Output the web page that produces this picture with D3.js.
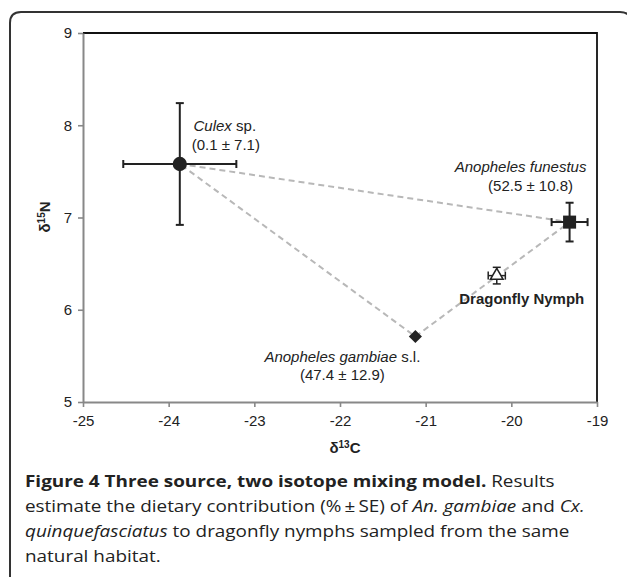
<!DOCTYPE html>
<html>
<head>
<meta charset="utf-8">
<script src="https://cdn.jsdelivr.net/npm/d3@7"></script>
<style>
  html, body { margin: 0; padding: 0; background: #fff; }
  svg { display: block; }
</style>
</head>
<body>
<svg id="chart" width="627" height="577"></svg>
<script>
// ---------------- DATA ----------------
const sourceNames = ["Culex", "Anopheles funestus", "Anopheles gambiae", "Dragonfly Nymph"];
const d13C      = [-23.87, -19.32, -21.12, -20.17];
const d15N      = [7.58, 6.95, 5.71, 6.37];
const d13C_se   = [0.66, 0.21, 0, 0.10];
const d15N_se   = [0.66, 0.21, 0, 0.09];
const contributions = ["(0.1 \u00B1 7.1)", "(52.5 \u00B1 10.8)", "(47.4 \u00B1 12.9)", ""];
const xTicks = [-25, -24, -23, -22, -21, -20, -19];
const yTicks = [5, 6, 7, 8, 9];
const mixingTriangle = [0, 1, 2, 0]; // indices of sources joined by dashed lines

// ---------------- LAYOUT ----------------
const svg = d3.select("#chart");
const L = 83, R = 597, T = 33, B = 402;
const x = d3.scaleLinear().domain([-25, -19]).range([L, R]);
const y = d3.scaleLinear().domain([5, 9]).range([B, T]);
const font = "'Liberation Sans', Arial, sans-serif";
const dark = "#222";
const fmt = d => d3.format("d")(d).replace("\u2212", "-");

// outer rounded frame (open at bottom)
svg.append("path")
  .attr("d", "M10,590 L10,23 Q10,12 21,12 L620,12 Q631,12 631,23 L631,590")
  .attr("fill", "none").attr("stroke", "#333").attr("stroke-width", 2);

// plot frame top/right
svg.append("path")
  .attr("d", `M${L},${T} L${R},${T} L${R},${B}`)
  .attr("fill", "none").attr("stroke", "#111").attr("stroke-width", 1.8);

// axes
const gx = svg.append("g").attr("transform", `translate(0,${B})`)
  .call(d3.axisBottom(x).tickValues(xTicks).tickSize(5).tickPadding(8).tickSizeOuter(0).tickFormat(fmt));
const gy = svg.append("g").attr("transform", `translate(${L},0)`)
  .call(d3.axisLeft(y).tickValues(yTicks).tickSize(5).tickPadding(6).tickSizeOuter(0).tickFormat(fmt));
[gx, gy].forEach(g => {
  g.select(".domain").attr("stroke", "#888").attr("stroke-width", 2);
  g.selectAll(".tick line").attr("stroke", "#888").attr("stroke-width", 1.6);
  g.selectAll(".tick text").attr("fill", dark).style("font-family", font).style("font-size", "15px");
});

// axis titles
const xt = svg.append("text").attr("x", 345).attr("y", 453).attr("text-anchor", "middle")
  .style("font-family", font).style("font-size", "15px").style("font-weight", "bold").attr("fill", dark);
xt.append("tspan").text("\u03B4");
xt.append("tspan").attr("font-size", "10px").attr("dy", -5).text("13");
xt.append("tspan").attr("dy", 5).text("C");

const yt = svg.append("text").attr("transform", "translate(50,217) rotate(-90)").attr("text-anchor", "middle")
  .style("font-family", font).style("font-size", "15px").style("font-weight", "bold").attr("fill", dark);
yt.append("tspan").text("\u03B4");
yt.append("tspan").attr("font-size", "10px").attr("dy", -5).text("15");
yt.append("tspan").attr("dy", 5).text("N");

// dashed mixing polygon
svg.append("path")
  .datum(mixingTriangle)
  .attr("d", d3.line().x(i => x(d13C[i])).y(i => y(d15N[i])))
  .attr("fill", "none").attr("stroke", "#b8b8b8").attr("stroke-width", 2)
  .attr("stroke-dasharray", "6,4");

// error bars
const idx = d3.range(sourceNames.length);
const eb = svg.append("g").attr("stroke", dark).attr("fill", "none");
idx.forEach(i => {
  const cx = x(d13C[i]), cy = y(d15N[i]);
  const capW = 4;
  const sw = i === 3 ? 1.5 : 2;
  if (d15N_se[i] > 0) {
    const y1 = y(d15N[i] + d15N_se[i]), y2 = y(d15N[i] - d15N_se[i]);
    eb.append("line").attr("x1", cx).attr("x2", cx).attr("y1", y1).attr("y2", y2).attr("stroke-width", sw);
    [y1, y2].forEach(v => eb.append("line").attr("x1", cx - capW).attr("x2", cx + capW).attr("y1", v).attr("y2", v).attr("stroke-width", sw));
  }
  if (d13C_se[i] > 0) {
    const x1 = x(d13C[i] - d13C_se[i]), x2 = x(d13C[i] + d13C_se[i]);
    eb.append("line").attr("x1", x1).attr("x2", x2).attr("y1", cy).attr("y2", cy).attr("stroke-width", sw);
    [x1, x2].forEach(v => eb.append("line").attr("x1", v).attr("x2", v).attr("y1", cy - capW).attr("y2", cy + capW).attr("stroke-width", sw));
  }
});

// markers
const symbols = [d3.symbolCircle, d3.symbolSquare, d3.symbolSquare, d3.symbolTriangle];
const sizes = [160, 170, 86, 70];
const rot = [0, 0, 45, 0];
svg.append("g").selectAll("path").data(idx).join("path")
  .attr("transform", i => `translate(${x(d13C[i])},${y(d15N[i])}) rotate(${rot[i]})`)
  .attr("d", i => d3.symbol(symbols[i], sizes[i])())
  .attr("fill", i => i === 3 ? "#fff" : dark)
  .attr("stroke", dark)
  .attr("stroke-width", i => i === 3 ? 1.5 : 0);

// point labels
const lab = svg.append("g").style("font-family", font).style("font-size", "15px").attr("fill", dark);
function px(i) { return x(d13C[i]); }
function py(i) { return y(d15N[i]); }
// Culex
let t = lab.append("text").attr("x", px(0) + 45).attr("y", py(0) - 33).attr("text-anchor", "middle");
t.append("tspan").style("font-style", "italic").text(sourceNames[0]);
t.append("tspan").text(" sp.");
lab.append("text").attr("x", px(0) + 46).attr("y", py(0) - 14).attr("text-anchor", "middle").text(contributions[0]);
// funestus
lab.append("text").attr("x", px(1) - 49).attr("y", py(1) - 50).attr("text-anchor", "middle")
  .style("font-style", "italic").text(sourceNames[1]);
lab.append("text").attr("x", px(1) - 39).attr("y", py(1) - 31).attr("text-anchor", "middle").text(contributions[1]);
// gambiae
t = lab.append("text").attr("x", px(2) - 73).attr("y", py(2) + 25).attr("text-anchor", "middle");
t.append("tspan").style("font-style", "italic").text(sourceNames[2]);
t.append("tspan").text(" s.l.");
lab.append("text").attr("x", px(2) - 73).attr("y", py(2) + 43).attr("text-anchor", "middle").text(contributions[2]);
// dragonfly
lab.append("text").attr("x", px(3) + 25).attr("y", py(3) + 28).attr("text-anchor", "middle")
  .style("font-weight", "bold").text(sourceNames[3]);

// caption
const capFont = "'Open Sans', 'Noto Sans', sans-serif";
const cap = svg.append("g").attr("transform", "translate(25,487)")
  .style("font-family", capFont).style("font-size", "16px").attr("fill", "#222");
const lines = [
  [["Figure 4 Three source, two isotope mixing model.", "b"], [" Results", ""]],
  [["estimate the dietary contribution (%\u2009\u00B1\u2009SE) of ", ""], ["An. gambiae", "i"], [" and ", ""], ["Cx.", "i"]],
  [["quinquefasciatus", "i"], [" to dragonfly nymphs sampled from the same", ""]],
  [["natural habitat.", ""]]
];
const capTexts = lines.map((ln, k) => {
  const te = cap.append("text").attr("x", 0).attr("y", k * 25);
  ln.forEach(([s, st]) => {
    const sp = te.append("tspan").text(s);
    if (st === "b") sp.style("font-weight", "bold");
    if (st === "i") sp.style("font-style", "italic");
  });
  return te;
});
const w1 = capTexts[0].node().getComputedTextLength();
const sx = 530 / w1;
cap.attr("transform", `translate(25,487) scale(${sx},1)`);
</script>
</body>
</html>
